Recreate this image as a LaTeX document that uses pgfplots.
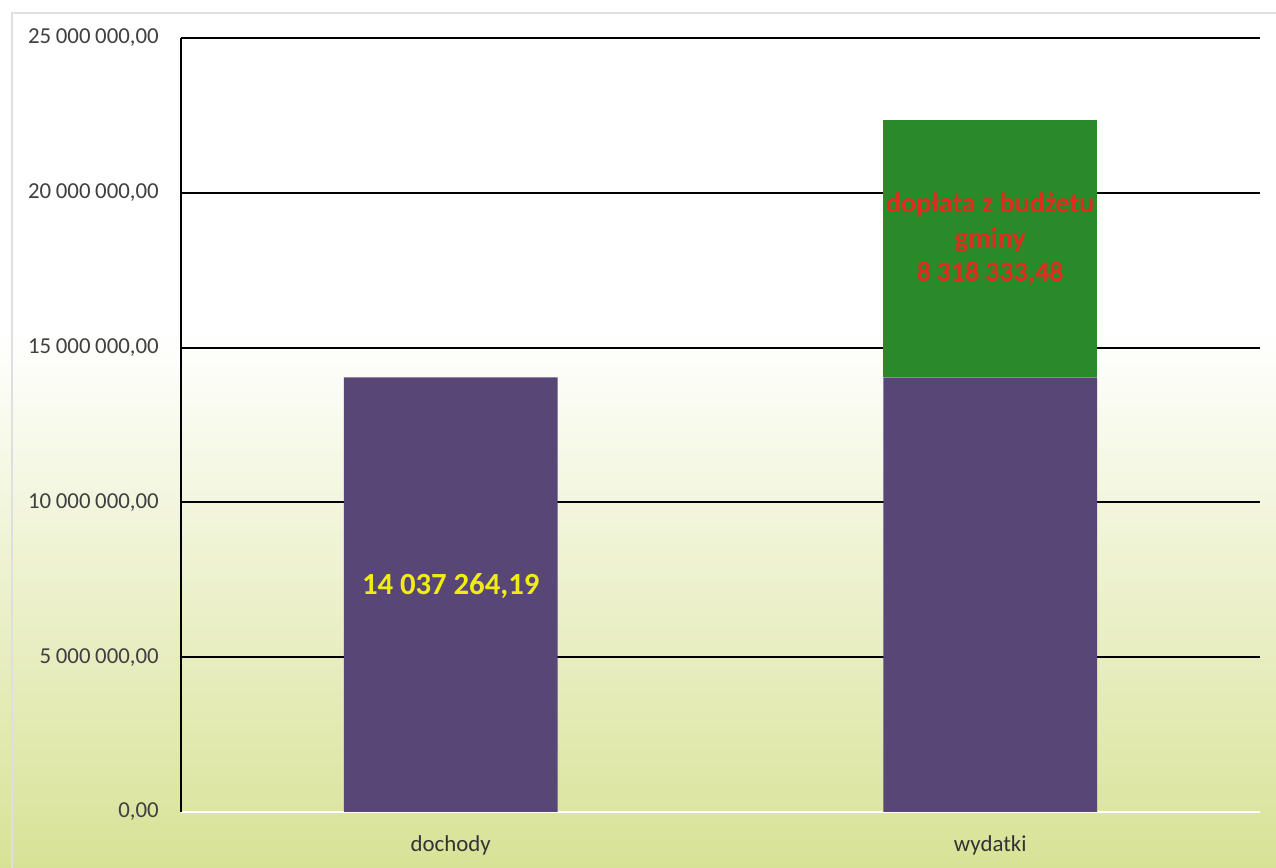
\documentclass[border=0pt]{standalone}
\usepackage{fontspec}
\setmainfont{Carlito}
\usepackage{pgfplots}
\pgfplotsset{compat=1.18}

\definecolor{barpurple}{RGB}{88,70,118}
\definecolor{bargreen}{RGB}{40,138,40}
\definecolor{bgbottom}{RGB}{216,226,150}
\definecolor{labyellow}{RGB}{240,236,20}
\definecolor{labred}{RGB}{222,44,30}
\definecolor{ticktext}{RGB}{64,64,64}

\begin{document}
\begin{tikzpicture}
% background, 1px = 0.2mm
\useasboundingbox (0,0) rectangle (255.2mm,173.6mm);
\fill[white] (0,0) rectangle (255.2mm,173.6mm);
\shade[top color=white, bottom color=bgbottom] (0,0) rectangle (255.2mm,107.6mm);
\draw[gray!25, line width=0.6pt] (2.4mm,0) -- (2.4mm,171mm) -- (255.2mm,171mm);

\begin{axis}[
    at={(36.2mm,11.2mm)}, anchor=south west,
    scale only axis,
    width=215.8mm, height=154.8mm,
    ybar stacked,
    bar width=0.396,
    xmin=-0.5, xmax=1.5,
    ymin=0, ymax=25000000,
    xtick={0,1},
    xticklabels={dochody,wydatki},
    ytick={0,5000000,10000000,15000000,20000000,25000000},
    scaled y ticks=false,
    yticklabel style={
        /pgf/number format/fixed,
        /pgf/number format/fixed zerofill,
        /pgf/number format/precision=2,
        /pgf/number format/use comma,
        /pgf/number format/1000 sep={\hspace{0.2em}},
        /pgf/number format/assume math mode=true,
        xshift=-3.2mm
    },
    ticklabel style={font=\fontsize{13}{15}\selectfont, text=ticktext},
    xticklabel style={text=black!80, yshift=-3.4mm},
    major tick length=0pt,
    ymajorgrids=true,
    grid style={black, line width=1.1pt},
    axis x line*=bottom,
    axis y line*=left,
    x axis line style={white, line width=1.4pt},
    y axis line style={black, line width=1.1pt},
    clip=false,
]
\addplot[fill=barpurple, draw=none] coordinates {(0,14037264.19) (1,14037264.19)};
\addplot[fill=bargreen, draw=none] coordinates {(0,0) (1,8318333.48)};

\coordinate (labA) at (axis cs:0,7300000);
\coordinate (labB) at (axis cs:1,18500000);
\end{axis}

\node[font=\bfseries\fontsize{17.5}{19}\selectfont, text=labyellow]
    at (labA) {14\hspace{0.22em}037\hspace{0.22em}264,19};
\node[font=\bfseries\fontsize{16}{19.5}\selectfont, text=labred, align=center]
    at (labB) {dopłata z budżetu\\gminy\\8\hspace{0.2em}318\hspace{0.2em}333,48};
\end{tikzpicture}
\end{document}
